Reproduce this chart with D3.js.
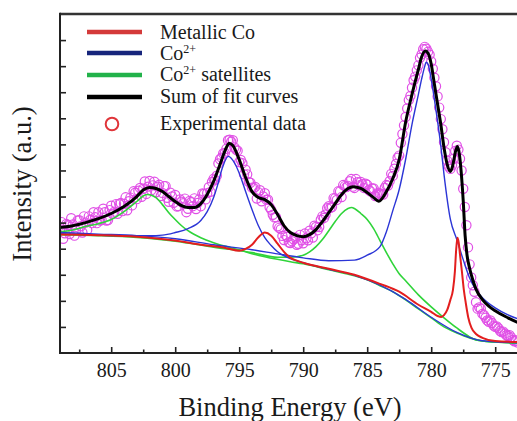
<!DOCTYPE html>
<html>
<head>
<meta charset="utf-8">
<script src="https://cdn.jsdelivr.net/npm/d3@7"></script>
<style>
  html, body { margin: 0; padding: 0; background: #fff; }
  svg { display: block; }
</style>
</head>
<body>
<svg id="chart" width="517" height="421"></svg>
<script>
// ---------------- data (binding energy in eV, intensity in a.u.) ----------------
const xMajorTicks = [805, 800, 795, 790, 785, 780, 775];
const xMinorTicks = [807.5, 802.5, 797.5, 792.5, 787.5, 782.5, 777.5, 772.5];
const yTicks = [1, 2, 3, 4, 5, 6, 7, 8, 9, 10, 11, 12];

const legendLabels = ["Metallic Co", "Co", "Co", "Sum of fit curves", "Experimental data"];

// experimental spectrum, 809 eV down to 773.25 eV every 0.25 eV
const expIntensity = [
  4.71, 4.38, 4.95, 4.56, 4.93, 4.71, 5.09, 4.62, 5.00, 5.24, 4.98, 5.21,
  5.40, 5.10, 5.40, 5.10, 5.65, 5.42, 5.34, 5.75, 5.72, 5.47, 5.96, 6.20,
  5.90, 6.33, 6.30, 6.10, 6.60, 6.43, 6.16, 6.45, 6.14, 6.40, 5.80, 6.00,
  6.06, 5.63, 5.80, 5.92, 5.53, 5.78, 5.93, 5.75, 5.63, 6.10, 6.13, 6.18,
  6.68, 6.80, 7.43, 7.65, 7.83, 8.18, 8.16, 7.80, 7.32, 7.28, 7.03, 6.56,
  6.34, 6.37, 6.16, 5.82, 6.13, 5.88, 5.49, 5.20, 4.86, 4.75, 4.33, 4.45,
  4.22, 4.36, 4.15, 4.53, 4.21, 4.40, 4.69, 4.43, 4.83, 4.83, 5.24, 5.31,
  5.63, 5.60, 5.93, 6.20, 5.98, 6.40, 6.41, 6.67, 6.33, 6.55, 6.56, 6.33,
  6.45, 6.20, 6.31, 6.08, 6.11, 6.08, 6.44, 6.59, 6.79, 7.25, 7.57, 8.40,
  9.05, 9.70, 10.17, 10.60, 11.03, 11.45, 11.74, 11.55, 11.18, 10.56, 9.84, 8.97,
  8.08, 7.38, 7.06, 7.45, 7.95, 7.45, 6.30, 4.90, 3.40, 2.60, 1.95, 1.75,
  1.50, 1.35, 1.20, 1.15, 1.00, 0.95, 0.80, 0.75, 0.65, 0.60, 0.45, 0.40
];
// the in-between readings, 808.875 eV down to 773.375 eV
const expIntensityMid = [
  5.02, 4.59, 4.91, 5.17, 4.50, 5.08, 4.86, 5.24, 4.72, 5.11, 5.40, 4.98,
  5.08, 5.53, 5.08, 5.48, 5.34, 5.71, 5.72, 5.44, 5.97, 5.82, 5.66, 6.15,
  6.22, 5.99, 6.58, 6.38, 6.24, 6.57, 6.38, 6.02, 6.40, 5.95, 6.15, 5.76,
  5.62, 5.89, 5.74, 5.40, 5.83, 5.63, 5.52, 5.89, 6.12, 5.89, 6.36, 6.56,
  6.64, 7.27, 7.49, 7.67, 8.16, 8.10, 7.88, 7.76, 7.40, 6.85, 6.85, 6.53,
  6.33, 5.92, 6.24, 6.00, 5.88, 5.59, 5.30, 5.21, 4.80, 4.49, 4.52, 4.24,
  4.29, 4.43, 4.19, 4.32, 4.58, 4.32, 4.59, 4.88, 4.71, 5.11, 5.18, 5.55,
  5.57, 5.94, 5.87, 6.19, 6.44, 6.36, 6.59, 6.38, 6.67, 6.43, 6.47, 6.49,
  6.25, 6.31, 6.02, 6.15, 6.10, 6.34, 6.42, 6.87, 7.07, 7.49, 8.06, 8.73,
  9.38, 9.86, 10.46, 10.84, 11.32, 11.65, 11.67, 11.44, 10.90, 10.23, 9.41, 8.58,
  7.70, 7.15, 7.20, 7.75, 7.80, 7.00, 5.60, 4.05, 2.90, 2.35, 1.70, 1.70,
  1.45, 1.25, 1.25, 1.05, 1.02, 0.85, 0.82, 0.68, 0.68, 0.50, 0.48
];
const expStart = 809, expStep = 0.25;

// fitted curves: [energy, intensity]
const metallicCo = [
  [809, 4.54], [806, 4.52], [803, 4.46], [800, 4.31], [798, 4.15], [796, 4.02],
  [795, 3.92], [794.5, 3.99], [794, 4.15], [793.5, 4.44], [793, 4.62], [792.5, 4.5],
  [792, 4.19], [791.5, 3.88], [791, 3.65], [790.5, 3.54], [790, 3.46], [788, 3.23],
  [786, 3.0], [784, 2.65], [782.5, 2.35], [781, 1.85], [780, 1.58], [779.5, 1.42],
  [779.2, 1.38], [779, 1.45], [778.75, 1.65], [778.5, 2.04], [778.3, 2.42],
  [778.15, 3.12], [778.05, 3.96], [777.95, 4.42], [777.85, 4.23], [777.75, 3.77],
  [777.6, 3.12], [777.45, 2.42], [777.3, 1.92], [777.1, 1.35], [776.85, 0.96],
  [776.5, 0.73], [776, 0.58], [775, 0.46], [773, 0.42]
];
const co2p12 = [
  [809, 4.58], [806, 4.52], [804, 4.5], [802, 4.5], [801, 4.52], [800, 4.62],
  [799, 4.77], [798, 5.08], [797.5, 5.42], [797, 5.96], [796.7, 6.42], [796.3, 7.12],
  [795.86, 7.54], [795.3, 7.23], [794.9, 6.77], [794.5, 6.19], [794, 5.5],
  [793.5, 4.88], [793, 4.42], [792.5, 4.12], [792, 3.88], [791, 3.62], [790, 3.46],
  [788, 3.21], [786, 2.98], [784, 2.6], [782, 2.06], [780, 1.37], [778, 0.79],
  [776, 0.47], [773, 0.39]
];
const co2p32 = [
  [809, 4.62], [806, 4.56], [803, 4.5], [800, 4.38], [797, 4.15], [794, 3.96],
  [792, 3.8], [790, 3.65], [788, 3.54], [786, 3.56], [785, 3.75], [784, 4.08],
  [783.5, 4.65], [783, 5.46], [782.5, 6.27], [782, 7.42], [781.5, 8.77], [781, 9.92],
  [780.75, 10.5], [780.5, 11.0], [780.4, 11.15], [780.25, 11.08], [780, 10.5],
  [779.75, 9.73], [779.5, 8.88], [779.25, 7.95], [779, 6.85], [778.5, 5.12],
  [778, 4.35], [777.5, 3.58], [777, 2.88], [776.5, 2.42], [776, 2.12], [775, 1.73],
  [774, 1.46], [773, 1.27]
];
const satellite1 = [
  [809, 4.65], [808, 4.72], [807, 4.85], [806, 4.96], [805, 5.12], [804, 5.42],
  [803, 5.81], [802.5, 6.02], [802.2, 6.08], [801.8, 6.04], [801.5, 5.96], [801, 5.69],
  [800.5, 5.38], [800, 5.12], [799.5, 4.88], [799, 4.69], [798, 4.42], [797, 4.23],
  [796, 4.08], [795, 3.96], [794, 3.81], [793, 3.69], [791, 3.5], [790, 3.42],
  [788, 3.19], [786, 2.96], [785, 2.81], [784, 2.58], [783, 2.35], [782, 2.04],
  [781, 1.69], [780, 1.35], [779, 1.0], [778, 0.77], [777, 0.58], [776, 0.46],
  [775, 0.42], [773, 0.38]
];
const satellite2 = [
  [809, 4.54], [806, 4.5], [803, 4.43], [800, 4.29], [797, 4.06], [794, 3.85],
  [792, 3.67], [791, 3.67], [790, 3.75], [789.5, 3.88], [789, 4.08], [788.5, 4.35],
  [788, 4.69], [787.5, 5.04], [787, 5.35], [786.5, 5.54], [786.2, 5.58], [786, 5.54],
  [785.5, 5.35], [785, 5.12], [784.5, 4.77], [784, 4.31], [783.5, 3.85], [783, 3.42],
  [782.5, 3.04], [782, 2.77], [781, 2.23], [780, 1.77], [779, 1.35], [778, 0.96],
  [777, 0.62], [776.5, 0.5], [775, 0.42], [773, 0.38]
];
const fitSum = [
  [809, 4.81], [808, 4.88], [807, 5.0], [806, 5.15], [805, 5.35], [804, 5.62],
  [803, 6.0], [802.5, 6.25], [802, 6.35], [801.5, 6.31], [801, 6.19], [800.5, 6.0],
  [800, 5.81], [799.5, 5.65], [799, 5.58], [798.5, 5.58], [798, 5.73], [797.5, 6.08],
  [797, 6.58], [796.5, 7.23], [796, 7.88], [795.8, 8.04], [795.5, 7.96], [795, 7.42],
  [794.5, 6.73], [794, 6.19], [793.5, 5.96], [793, 5.88], [792.5, 5.69], [792, 5.31],
  [791.5, 4.88], [791, 4.62], [790.5, 4.5], [790, 4.46], [789.5, 4.54], [789, 4.73],
  [788.5, 5.04], [788, 5.38], [787.5, 5.73], [787, 6.08], [786.5, 6.31], [786.1, 6.38],
  [785.5, 6.31], [785, 6.15], [784.5, 5.96], [784.1, 5.82], [783.5, 6.19], [783, 6.69],
  [782.5, 7.42], [782, 8.85], [781.5, 9.92], [781, 10.88], [780.75, 11.35],
  [780.45, 11.58], [780.2, 11.45], [780, 11.08], [779.75, 10.31], [779.5, 9.54],
  [779.25, 8.77], [779, 7.88], [778.75, 7.23], [778.5, 6.96], [778.3, 7.23],
  [778.1, 7.73], [777.95, 7.92], [777.8, 7.62], [777.65, 6.9], [777.5, 5.85],
  [777.35, 4.5], [777.2, 3.75], [777, 3.25], [776.75, 2.8], [776.5, 2.45],
  [776, 2.05], [775.5, 1.8], [775, 1.62], [774, 1.35], [773, 1.12]
];

// ---------------- layout ----------------
const SERIF = "'Liberation Serif', 'Times New Roman', Times, Tinos, 'Nimbus Roman', FreeSerif, 'Noto Serif', 'DejaVu Serif', Georgia, serif";
const svg = d3.select("#chart");
const plotLeft = 60, plotTop = 14, plotBottom = 353, plotRight = 533.6;
const x = d3.scaleLinear().domain([809, 772]).range([plotLeft, plotRight]);
const y = d3.scaleLinear().domain([0, 13]).range([plotBottom, plotTop]);

svg.append("defs").append("clipPath").attr("id", "plotClip")
  .append("rect").attr("x", plotLeft).attr("y", plotTop)
  .attr("width", plotRight - plotLeft).attr("height", plotBottom - plotTop);

const plot = svg.append("g").attr("clip-path", "url(#plotClip)");

// experimental data
const expData = expIntensity.map((v, i) => [expStart - i * expStep, v])
  .concat(expIntensityMid.map((v, i) => [expStart - (i + 0.5) * expStep, v]));
plot.append("g").selectAll("circle").data(expData).join("circle")
  .attr("cx", d => x(d[0])).attr("cy", d => y(d[1])).attr("r", 4.6)
  .attr("fill", "none").attr("stroke", "#e04fe6").attr("stroke-width", 1.2);

const line = d3.line().x(d => x(d[0])).y(d => y(d[1])).curve(d3.curveMonotoneX);

const curves = [
  { data: satellite1, color: "#2fd43a", w: 1.6 },
  { data: satellite2, color: "#2fd43a", w: 1.6 },
  { data: co2p12, color: "#2b35d6", w: 1.4 },
  { data: co2p32, color: "#2b35d6", w: 1.4 },
  { data: metallicCo, color: "#e31e1e", w: 2.0 },
  { data: fitSum, color: "#000000", w: 3.0 }
];
curves.forEach(c => {
  plot.append("path").datum(c.data).attr("d", line)
    .attr("fill", "none").attr("stroke", c.color).attr("stroke-width", c.w)
    .attr("stroke-linejoin", "round");
});

// ---------------- axes ----------------
const gx = svg.append("g").attr("transform", `translate(0,${plotBottom})`)
  .call(d3.axisBottom(x).tickValues(xMajorTicks).tickSize(-6).tickPadding(10).tickFormat(d3.format("d")));
gx.attr("font-family", SERIF);
gx.select(".domain").remove();
gx.selectAll(".tick line").attr("stroke", "#222").attr("stroke-width", 1.6);
gx.selectAll(".tick text").attr("font-size", 20).attr("font-family", SERIF).attr("fill", "#1a1a1a");

const gxm = svg.append("g").attr("transform", `translate(0,${plotBottom})`)
  .call(d3.axisBottom(x).tickValues(xMinorTicks.filter(v => x(v) < 517)).tickSize(-3.5).tickFormat(""));
gxm.select(".domain").remove();
gxm.selectAll(".tick line").attr("stroke", "#222").attr("stroke-width", 1.6);

const gy = svg.append("g").attr("transform", `translate(${plotLeft},0)`)
  .call(d3.axisLeft(y).tickValues(yTicks).tickSize(-6).tickFormat(""));
gy.select(".domain").remove();
gy.selectAll(".tick line").attr("stroke", "#222").attr("stroke-width", 1.6);

// frame
svg.append("line").attr("x1", plotLeft).attr("x2", 517).attr("y1", plotBottom).attr("y2", plotBottom)
  .attr("stroke", "#222").attr("stroke-width", 2);
svg.append("line").attr("x1", plotLeft).attr("x2", 517).attr("y1", plotTop).attr("y2", plotTop)
  .attr("stroke", "#333").attr("stroke-width", 2.4);
svg.append("line").attr("x1", plotLeft).attr("x2", plotLeft).attr("y1", plotTop - 1.2).attr("y2", plotBottom + 1)
  .attr("stroke", "#222").attr("stroke-width", 2);

// axis titles
svg.append("text").attr("x", 290).attr("y", 416).attr("text-anchor", "middle")
  .attr("font-family", SERIF).attr("font-size", 26.5).attr("fill", "#1a1a1a").text("Binding Energy (eV)");
svg.append("text").attr("transform", "translate(31,184) rotate(-90)").attr("text-anchor", "middle")
  .attr("font-family", SERIF).attr("font-size", 26.5).attr("fill", "#1a1a1a").text("Intensity (a.u.)");

// ---------------- legend ----------------
const legend = svg.append("g").attr("font-family", SERIF).attr("fill", "#1a1a1a");
const legLines = [
  { y: 32, color: "#d43a3a" },
  { y: 53, color: "#17257c" },
  { y: 75, color: "#22b24a" },
  { y: 97, color: "#000000" }
];
legLines.forEach(l => {
  legend.append("line").attr("x1", 87).attr("x2", 142).attr("y1", l.y).attr("y2", l.y)
    .attr("stroke", l.color).attr("stroke-width", 4.5);
});
legend.append("circle").attr("cx", 112).attr("cy", 124).attr("r", 6.3)
  .attr("fill", "none").attr("stroke", "#e0353a").attr("stroke-width", 2);

const legendSize = 20;
const baselines = [38.5, 59.5, 80.5, 103, 130];
legend.append("text").attr("x", 160).attr("y", baselines[0]).attr("font-size", legendSize).text(legendLabels[0]);
const t2 = legend.append("text").attr("x", 160).attr("y", baselines[1]).attr("font-size", legendSize);
t2.append("tspan").text(legendLabels[1]);
t2.append("tspan").attr("font-size", 12).attr("dy", -7).text("2+");
const t3 = legend.append("text").attr("x", 160).attr("y", baselines[2]).attr("font-size", legendSize);
t3.append("tspan").text(legendLabels[2]);
t3.append("tspan").attr("font-size", 12).attr("dy", -7).text("2+");
t3.append("tspan").attr("dy", 7).text(" satellites");
legend.append("text").attr("x", 160).attr("y", baselines[3]).attr("font-size", legendSize).text(legendLabels[3]);
legend.append("text").attr("x", 160).attr("y", baselines[4]).attr("font-size", legendSize).text(legendLabels[4]);
</script>
</body>
</html>
